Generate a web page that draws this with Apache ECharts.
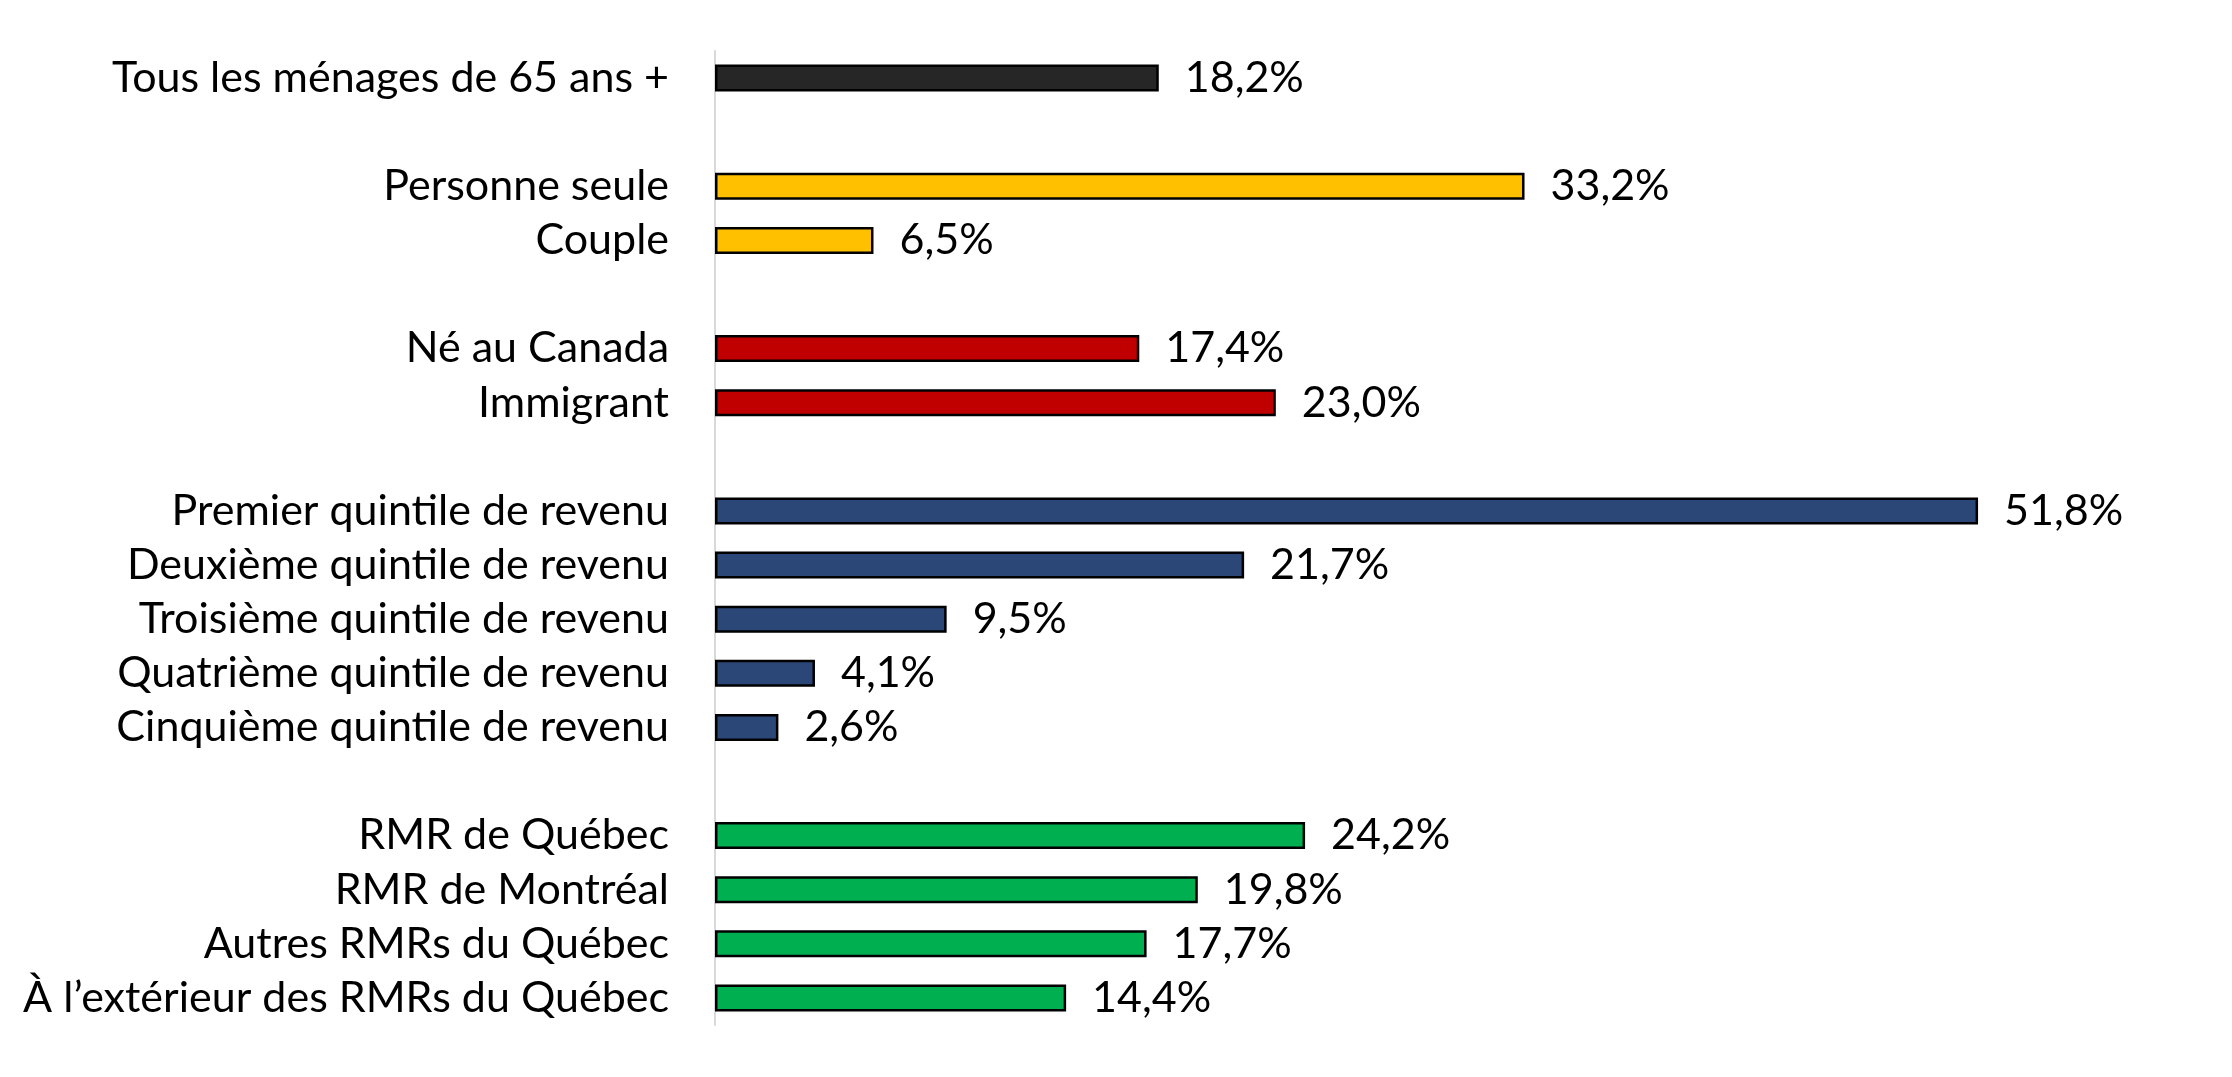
<!DOCTYPE html>
<html>
<head>
<meta charset="utf-8">
<script src="https://cdn.jsdelivr.net/npm/echarts@6/dist/echarts.min.js"></script>
<style>
html,body{margin:0;padding:0;background:#fff;}
#chart{width:2232px;height:1077px;}
</style>
</head>
<body>
<div id="chart"></div>
<script>
// Data (blank strings are spacer rows between groups)
const categories = [
  'Tous les ménages de 65 ans +', '',
  'Personne seule', 'Couple', '',
  'Né au Canada', 'Immigrant', '',
  'Premier quintile de revenu', 'Deuxième quintile de revenu', 'Troisième quintile de revenu',
  'Quatrième quintile de revenu', 'Cinquième quintile de revenu', '',
  'RMR de Québec', 'RMR de Montréal', 'Autres RMRs du Québec', 'À l’extérieur des RMRs du Québec'
];
const values = [
  18.2, null,
  33.2, 6.5, null,
  17.4, 23.0, null,
  51.8, 21.7, 9.5, 4.1, 2.6, null,
  24.2, 19.8, 17.7, 14.4
];
const groups = [0, -1, 1, 1, -1, 2, 2, -1, 3, 3, 3, 3, 3, -1, 4, 4, 4, 4];
const groupColors = ['#262626', '#FFC000', '#C00000', '#2B4778', '#00B050'];

const axisData = categories.map((c, i) => c === '' ? '\u200b'.repeat(i + 1) : c);
const seriesData = values.map((v, i) => v === null ? '-' : {
  value: v,
  itemStyle: { color: groupColors[groups[i]] }
});

const chart = echarts.init(document.getElementById('chart'));
chart.setOption({
  animation: false,
  backgroundColor: '#fff',
  grid: { left: 715, right: 54, top: 51, bottom: 52 },
  xAxis: {
    type: 'value', min: 0, max: 60,
    show: false
  },
  yAxis: {
    type: 'category',
    inverse: true,
    data: axisData,
    axisLine: { show: true, lineStyle: { color: '#d9d9d9', width: 2 } },
    axisTick: { show: false },
    axisLabel: {
      interval: 0,
      hideOverlap: false,
      margin: 46,
      color: '#000',
      fontFamily: 'Lato',
      fontSize: 43,
      lineHeight: 44
    }
  },
  series: [{
    type: 'bar',
    data: seriesData,
    barWidth: 27,
    itemStyle: { borderColor: '#000', borderWidth: 2.5 },
    label: {
      show: true,
      position: 'right',
      distance: 26,
      color: '#000',
      fontFamily: 'Lato',
      fontSize: 43,
      formatter: p => p.value.toFixed(1).replace('.', ',') + '%'
    }
  }]
});
</script>
</body>
</html>
